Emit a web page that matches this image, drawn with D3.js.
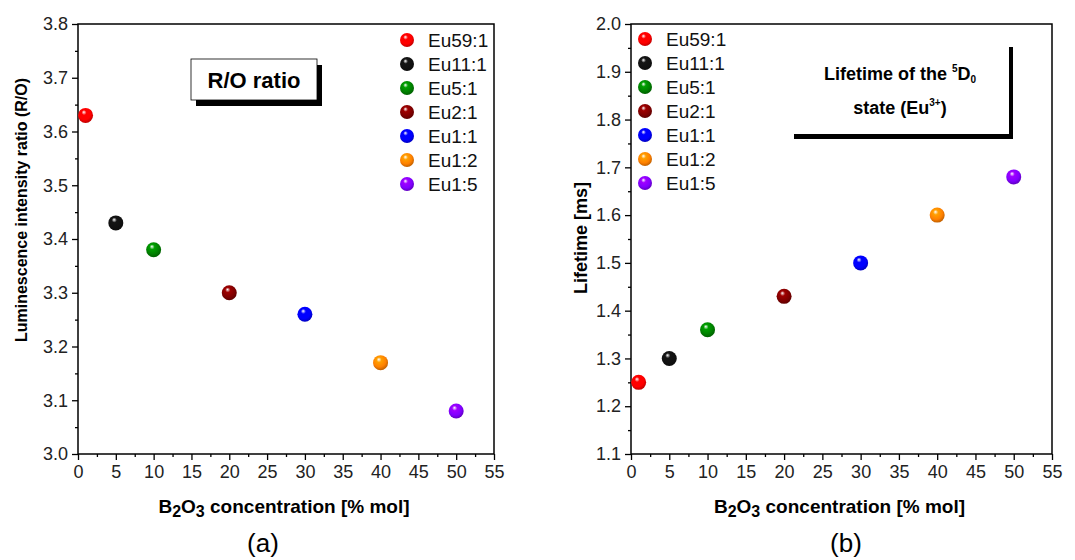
<!DOCTYPE html>
<html>
<head>
<meta charset="utf-8">
<script src="https://cdn.jsdelivr.net/npm/d3@7"></script>
<style>
  body { margin: 0; background: #fff; }
  svg { display: block; font-family: "Liberation Sans", Arial, sans-serif; }
  .tick text { font-size: 18px; fill: #222; }
</style>
</head>
<body>
<svg id="chart" width="1075" height="560"></svg>
<script>
// ---- data ----
const samples = ["Eu59:1", "Eu11:1", "Eu5:1", "Eu2:1", "Eu1:1", "Eu1:2", "Eu1:5"];
const colors = ["#ff0000", "#111111", "#008000", "#800000", "#0000ff", "#ff8000", "#8000ff"];
const b2o3 = [1, 5, 10, 20, 30, 40, 50];
const roRatio = [3.63, 3.43, 3.38, 3.30, 3.26, 3.17, 3.08];
const lifetime = [1.25, 1.30, 1.36, 1.43, 1.50, 1.60, 1.68];
const xTicks = d3.range(0, 56, 5);
const roTicks = [3.0, 3.1, 3.2, 3.3, 3.4, 3.5, 3.6, 3.7, 3.8];
const ltTicks = [1.1, 1.2, 1.3, 1.4, 1.5, 1.6, 1.7, 1.8, 1.9, 2.0];

const svg = d3.select("#chart");
svg.append("rect").attr("width", 1075).attr("height", 560).attr("fill", "#fff");

// sphere gradients
const defs = svg.append("defs");
colors.forEach((c, i) => {
  const g = defs.append("radialGradient").attr("id", "ball" + i)
    .attr("cx", "45%").attr("cy", "40%").attr("r", "60%")
    .attr("fx", "38%").attr("fy", "28%");
  g.append("stop").attr("offset", "0%").attr("stop-color", "#fff");
  g.append("stop").attr("offset", "28%").attr("stop-color", d3.color(c).brighter(0.6));
  g.append("stop").attr("offset", "70%").attr("stop-color", c);
  g.append("stop").attr("offset", "100%").attr("stop-color", d3.color(c).darker(0.8));
});

function panel(opt) {
  const g = svg.append("g");
  const x = d3.scaleLinear().domain([0, 55]).range([opt.left, opt.right]);
  const y = d3.scaleLinear().domain(opt.yDomain).range([454, 24]);

  // frame
  g.append("rect").attr("x", opt.left).attr("y", 24)
    .attr("width", opt.right - opt.left).attr("height", 430)
    .attr("fill", "none").attr("stroke", "#000").attr("stroke-width", 1.5);

  // x axis
  const xa = g.append("g").attr("transform", "translate(0,454)")
    .call(d3.axisBottom(x).tickValues(xTicks).tickFormat(d3.format("d")).tickSize(6).tickPadding(5));
  xa.append("g").call(d3.axisBottom(x).tickValues(d3.range(2.5, 55, 5)).tickSize(3).tickFormat(""));
  // y axis
  const ya = g.append("g").attr("transform", `translate(${opt.left},0)`)
    .call(d3.axisLeft(y).tickValues(opt.yTicks).tickFormat(d3.format(".1f")).tickSize(6).tickPadding(4));
  ya.append("g").call(d3.axisLeft(y).tickValues(opt.yTicks.slice(1).map(v => v - 0.05)).tickSize(3).tickFormat(""));
  g.selectAll(".domain").remove();
  g.selectAll(".tick line").attr("stroke", "#000").attr("stroke-width", 1.3);

  // axis titles
  const xt = g.append("text").attr("x", (opt.left + opt.right) / 2 - 2).attr("y", 513)
    .attr("text-anchor", "middle").attr("font-weight", "bold").attr("font-size", 19);
  xt.append("tspan").text("B");
  xt.append("tspan").text("2").attr("font-size", 16).attr("dy", 4);
  xt.append("tspan").text("O").attr("dy", -4);
  xt.append("tspan").text("3").attr("font-size", 16).attr("dy", 4);
  xt.append("tspan").text(" concentration [% mol]").attr("dy", -4);

  g.append("text").attr("transform", `translate(${opt.yTitleX},${opt.yTitleY}) rotate(-90)`)
    .attr("text-anchor", "middle").attr("font-weight", "bold").attr("font-size", opt.yTitleSize)
    .text(opt.yTitle);

  g.append("text").attr("x", opt.panelX).attr("y", 552).attr("text-anchor", "middle")
    .attr("font-size", 26).text(opt.panelLabel);

  // points
  g.selectAll("circle.pt").data(opt.values).join("circle").attr("class", "pt")
    .attr("cx", (d, i) => x(b2o3[i])).attr("cy", d => y(d)).attr("r", 7.5)
    .attr("fill", (d, i) => `url(#ball${i})`);

  // legend
  const lg = g.append("g");
  samples.forEach((s, i) => {
    const ly = opt.legY + i * 24;
    lg.append("circle").attr("cx", opt.legX).attr("cy", ly).attr("r", 7)
      .attr("fill", `url(#ball${i})`);
    lg.append("text").attr("x", opt.legX + 21).attr("y", ly + 7)
      .attr("font-size", 19).attr("fill", "#111").text(s);
  });
  return g;
}

const ga = panel({
  left: 78, right: 494, yDomain: [3.0, 3.8], yTicks: roTicks, values: roRatio,
  yTitle: "Luminescence intensity ratio (R/O)", yTitleX: 27, yTitleY: 210, yTitleSize: 16,
  panelX: 263, panelLabel: "(a)", legX: 407, legY: 40
});
const gb = panel({
  left: 631, right: 1052, yDomain: [1.1, 2.0], yTicks: ltTicks, values: lifetime,
  yTitle: "Lifetime [ms]", yTitleX: 587, yTitleY: 238, yTitleSize: 18,
  panelX: 846, panelLabel: "(b)", legX: 645, legY: 39
});

// annotation box (a)
ga.append("rect").attr("x", 196).attr("y", 65).attr("width", 126).attr("height", 41).attr("fill", "#000");
ga.append("rect").attr("x", 191).attr("y", 59).attr("width", 126).attr("height", 41)
  .attr("fill", "#fff").attr("stroke", "#000").attr("stroke-width", 0.8);
ga.append("text").attr("x", 254).attr("y", 88).attr("text-anchor", "middle")
  .attr("font-weight", "bold").attr("font-size", 22).text("R/O ratio");

// annotation box (b)
gb.append("rect").attr("x", 794).attr("y", 47).attr("width", 219).attr("height", 92).attr("fill", "#000");
gb.append("rect").attr("x", 790).attr("y", 42).attr("width", 219).attr("height", 92).attr("fill", "#fff");
const t1 = gb.append("text").attr("x", 900).attr("y", 80).attr("text-anchor", "middle")
  .attr("font-weight", "bold").attr("font-size", 18);
t1.append("tspan").text("Lifetime of the ");
t1.append("tspan").text("5").attr("font-size", 10).attr("dy", -8);
t1.append("tspan").text("D").attr("dy", 8);
t1.append("tspan").text("0").attr("font-size", 10).attr("dy", 3);
const t2 = gb.append("text").attr("x", 900).attr("y", 114).attr("text-anchor", "middle")
  .attr("font-weight", "bold").attr("font-size", 18);
t2.append("tspan").text("state (Eu");
t2.append("tspan").text("3+").attr("font-size", 10).attr("dy", -8);
t2.append("tspan").text(")").attr("dy", 8);
</script>
</body>
</html>
